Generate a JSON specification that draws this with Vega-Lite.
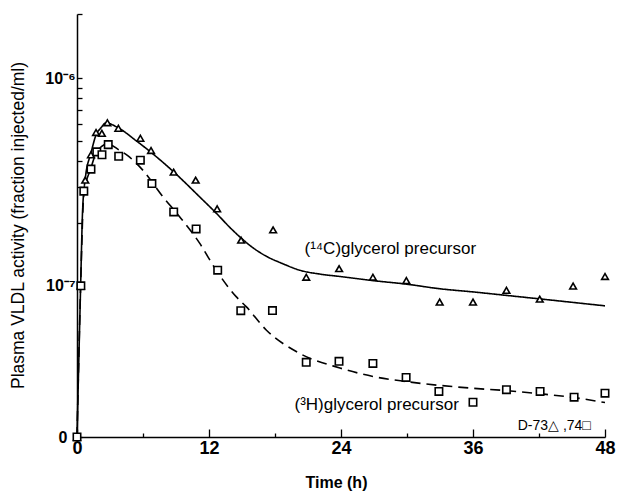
{
  "$schema": "https://vega.github.io/schema/vega-lite/v6.json",
  "autosize": {"type": "none"},
  "width": 528,
  "height": 423,
  "padding": {"left": 77, "top": 14, "right": 19, "bottom": 56},
  "background": "white",
  "config": {
    "view": {"stroke": null},
    "font": "Liberation Sans",
    "axis": {"grid": false, "domainColor": "black", "domainWidth": 1.5, "tickColor": "black", "tickWidth": 1.3, "labelColor": "black", "titleColor": "black", "labelFont": "Liberation Sans", "titleFont": "Liberation Sans"}
  },
  "datasets": {
    "pts": [
      {"series": "14C", "t": 0, "v": 1.87e-8},
      {"series": "14C", "t": 0.35, "v": 1.0e-7},
      {"series": "14C", "t": 0.75, "v": 3.23e-7},
      {"series": "14C", "t": 1.27, "v": 4.28e-7},
      {"series": "14C", "t": 1.73, "v": 5.48e-7},
      {"series": "14C", "t": 2.26, "v": 5.43e-7},
      {"series": "14C", "t": 2.76, "v": 6.11e-7},
      {"series": "14C", "t": 3.76, "v": 5.74e-7},
      {"series": "14C", "t": 5.76, "v": 5.14e-7},
      {"series": "14C", "t": 6.73, "v": 4.49e-7},
      {"series": "14C", "t": 8.79, "v": 3.53e-7},
      {"series": "14C", "t": 10.79, "v": 3.23e-7},
      {"series": "14C", "t": 12.74, "v": 2.35e-7},
      {"series": "14C", "t": 14.92, "v": 1.66e-7},
      {"series": "14C", "t": 17.83, "v": 1.86e-7},
      {"series": "14C", "t": 20.84, "v": 1.10e-7},
      {"series": "14C", "t": 23.83, "v": 1.21e-7},
      {"series": "14C", "t": 26.9, "v": 1.10e-7},
      {"series": "14C", "t": 29.94, "v": 1.06e-7},
      {"series": "14C", "t": 32.97, "v": 8.35e-8},
      {"series": "14C", "t": 36.0, "v": 8.35e-8},
      {"series": "14C", "t": 39.04, "v": 9.51e-8},
      {"series": "14C", "t": 42.07, "v": 8.63e-8},
      {"series": "14C", "t": 45.1, "v": 9.97e-8},
      {"series": "14C", "t": 48.0, "v": 1.11e-7},
      {"series": "3H", "t": 0, "v": 1.87e-8},
      {"series": "3H", "t": 0.35, "v": 1.0e-7},
      {"series": "3H", "t": 0.62, "v": 2.86e-7},
      {"series": "3H", "t": 1.27, "v": 3.65e-7},
      {"series": "3H", "t": 1.80, "v": 4.42e-7},
      {"series": "3H", "t": 2.27, "v": 4.28e-7},
      {"series": "3H", "t": 2.84, "v": 4.79e-7},
      {"series": "3H", "t": 3.79, "v": 4.21e-7},
      {"series": "3H", "t": 5.76, "v": 4.03e-7},
      {"series": "3H", "t": 6.81, "v": 3.11e-7},
      {"series": "3H", "t": 8.79, "v": 2.27e-7},
      {"series": "3H", "t": 10.83, "v": 1.88e-7},
      {"series": "3H", "t": 12.79, "v": 1.19e-7},
      {"series": "3H", "t": 14.89, "v": 7.59e-8},
      {"series": "3H", "t": 17.77, "v": 7.60e-8},
      {"series": "3H", "t": 20.84, "v": 4.28e-8},
      {"series": "3H", "t": 23.82, "v": 4.33e-8},
      {"series": "3H", "t": 26.9, "v": 4.23e-8},
      {"series": "3H", "t": 29.92, "v": 3.62e-8},
      {"series": "3H", "t": 32.9, "v": 3.10e-8},
      {"series": "3H", "t": 36.0, "v": 2.75e-8},
      {"series": "3H", "t": 39.04, "v": 3.16e-8},
      {"series": "3H", "t": 42.1, "v": 3.10e-8},
      {"series": "3H", "t": 45.19, "v": 2.91e-8},
      {"series": "3H", "t": 48.0, "v": 3.04e-8}
    ],
    "fits": [
      {"series": "14C", "t": 0, "v": 1.87e-8},
      {"series": "14C", "t": 0.33, "v": 1.0e-7},
      {"series": "14C", "t": 0.51, "v": 2.32e-7},
      {"series": "14C", "t": 0.76, "v": 3.31e-7},
      {"series": "14C", "t": 1.27, "v": 4.36e-7},
      {"series": "14C", "t": 1.73, "v": 5.33e-7},
      {"series": "14C", "t": 2.18, "v": 5.77e-7},
      {"series": "14C", "t": 2.64, "v": 6.10e-7},
      {"series": "14C", "t": 3.55, "v": 5.85e-7},
      {"series": "14C", "t": 5.49, "v": 4.95e-7},
      {"series": "14C", "t": 8.79, "v": 3.54e-7},
      {"series": "14C", "t": 11.13, "v": 2.69e-7},
      {"series": "14C", "t": 12.8, "v": 2.20e-7},
      {"series": "14C", "t": 13.86, "v": 1.92e-7},
      {"series": "14C", "t": 14.92, "v": 1.70e-7},
      {"series": "14C", "t": 16.04, "v": 1.52e-7},
      {"series": "14C", "t": 17.2, "v": 1.39e-7},
      {"series": "14C", "t": 18.68, "v": 1.28e-7},
      {"series": "14C", "t": 20.23, "v": 1.19e-7},
      {"series": "14C", "t": 22.05, "v": 1.14e-7},
      {"series": "14C", "t": 23.87, "v": 1.11e-7},
      {"series": "14C", "t": 26.9, "v": 1.06e-7},
      {"series": "14C", "t": 29.9, "v": 1.02e-7},
      {"series": "14C", "t": 33.0, "v": 9.68e-8},
      {"series": "14C", "t": 36.0, "v": 9.35e-8},
      {"series": "14C", "t": 39.0, "v": 9.0e-8},
      {"series": "14C", "t": 42.1, "v": 8.65e-8},
      {"series": "14C", "t": 48.0, "v": 8.01e-8},
      {"series": "3H", "t": 0, "v": 1.87e-8},
      {"series": "3H", "t": 0.33, "v": 1.0e-7},
      {"series": "3H", "t": 0.62, "v": 2.74e-7},
      {"series": "3H", "t": 1.27, "v": 3.70e-7},
      {"series": "3H", "t": 1.8, "v": 4.42e-7},
      {"series": "3H", "t": 2.8, "v": 4.83e-7},
      {"series": "3H", "t": 3.8, "v": 4.52e-7},
      {"series": "3H", "t": 4.7, "v": 4.20e-7},
      {"series": "3H", "t": 5.98, "v": 3.61e-7},
      {"series": "3H", "t": 7.8, "v": 2.69e-7},
      {"series": "3H", "t": 9.31, "v": 2.16e-7},
      {"series": "3H", "t": 11.13, "v": 1.61e-7},
      {"series": "3H", "t": 12.65, "v": 1.19e-7},
      {"series": "3H", "t": 14.47, "v": 8.87e-8},
      {"series": "3H", "t": 15.38, "v": 7.94e-8},
      {"series": "3H", "t": 17.2, "v": 6.13e-8},
      {"series": "3H", "t": 20.2, "v": 4.74e-8},
      {"series": "3H", "t": 23.9, "v": 4.02e-8},
      {"series": "3H", "t": 26.9, "v": 3.66e-8},
      {"series": "3H", "t": 29.9, "v": 3.46e-8},
      {"series": "3H", "t": 36.0, "v": 3.21e-8},
      {"series": "3H", "t": 39.0, "v": 3.13e-8},
      {"series": "3H", "t": 42.1, "v": 3.02e-8},
      {"series": "3H", "t": 45.1, "v": 2.90e-8},
      {"series": "3H", "t": 48.0, "v": 2.74e-8}
    ],
    "labels": [
      {"t": 20.68, "v": 1.507e-7, "text": "(¹⁴C)glycerol precursor", "size": 17, "weight": "normal"},
      {"t": 19.77, "v": 2.67e-8, "text": "(³H)glycerol precursor", "size": 17, "weight": "normal"},
      {"t": 40.06, "v": 2.12e-8, "text": "D-73△ ,74□", "size": 14, "weight": "bold"}
    ]
  },
  "layer": [
    {
      "data": {"name": "fits"},
      "mark": {"type": "line", "interpolate": "monotone", "color": "black", "strokeWidth": 1.6},
      "encoding": {
        "x": {"field": "t", "type": "quantitative",
          "scale": {"domain": [0, 48], "nice": false},
          "axis": {
            "title": "Time (h)",
            "values": [0, 6, 12, 18, 24, 30, 36, 42, 48],
            "labelExpr": "datum.value % 12 === 0 ? datum.label : ''",
            "tickSize": {"condition": {"test": "datum.value % 12 === 0", "value": -8}, "value": -4},
            "labelPadding": 10,
            "labelFontSize": 18,
            "labelFontWeight": "bold",
            "labelFlush": false,
            "titleFontSize": 16,
            "titleFontWeight": "bold",
            "titleX": 259,
            "titleY": 45,
            "titleBaseline": "middle"
          }
        },
        "y": {"field": "v", "type": "quantitative",
          "scale": {"type": "log", "domain": [1.87e-8, 2.04e-6], "nice": false},
          "axis": {
            "title": "Plasma VLDL activity (fraction injected/ml)",
            "values": [1.87e-8, 1e-7, 2e-7, 3e-7, 4e-7, 5e-7, 6e-7, 7e-7, 8e-7, 9e-7, 1e-6, 2.04e-6],
            "labelExpr": "datum.value < 5e-8 ? '0' : abs(datum.value - 1e-7) < 1e-9 ? '10⁻⁷' : abs(datum.value - 1e-6) < 1e-8 ? '10⁻⁶' : ''",
            "tickSize": -5,
            "labelPadding": {"condition": {"test": "datum.value < 5e-8", "value": 15}, "value": 7},
            "labelFontSize": 16,
            "labelFontWeight": "bold",
            "labelFlush": false,
            "labelOverlap": false,
            "titleFontSize": 17.5,
            "titleFontWeight": "normal",
            "titleAngle": -90,
            "titleX": -59,
            "titleY": 211,
            "titleAlign": "center",
            "titleBaseline": "middle"
          }
        },
        "strokeDash": {"field": "series", "type": "nominal",
          "scale": {"domain": ["14C", "3H"], "range": [[1, 0], [10, 6]]}, "legend": null}
      }
    },
    {
      "data": {"name": "pts"},
      "mark": {"type": "point", "filled": false, "fill": "white", "fillOpacity": 1, "stroke": "black", "strokeWidth": 1.6, "opacity": 1},
      "encoding": {
        "x": {"field": "t", "type": "quantitative"},
        "y": {"field": "v", "type": "quantitative"},
        "shape": {"field": "series", "type": "nominal",
          "scale": {"domain": ["14C", "3H"], "range": ["triangle-up", "square"]}, "legend": null},
        "size": {"field": "series", "type": "nominal",
          "scale": {"domain": ["14C", "3H"], "range": [45, 55]}, "legend": null}
      }
    },
    {
      "data": {"name": "labels"},
      "mark": {"type": "text", "align": "left", "baseline": "middle", "color": "black", "font": "Liberation Sans"},
      "encoding": {
        "x": {"field": "t", "type": "quantitative"},
        "y": {"field": "v", "type": "quantitative"},
        "text": {"field": "text"},
        "size": {"field": "size", "type": "quantitative", "scale": null},
        "fontWeight": {"field": "weight", "type": "nominal", "scale": null}
      }
    }
  ]
}
